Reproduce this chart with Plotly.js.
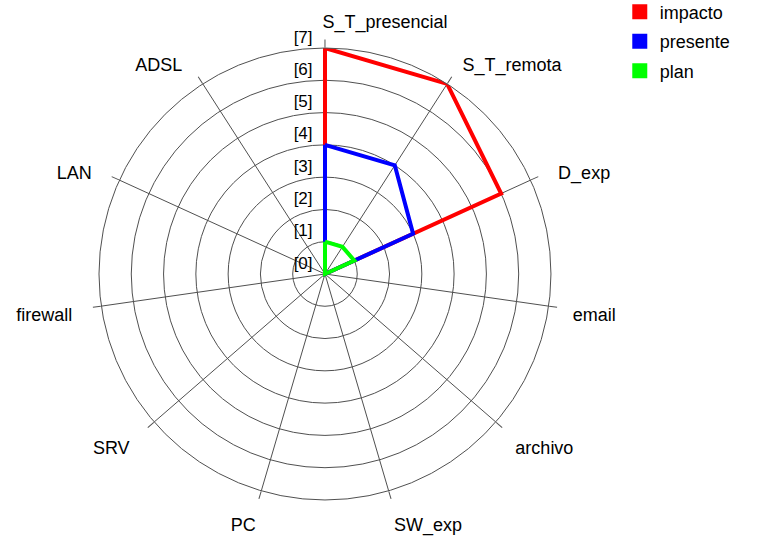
<!DOCTYPE html>
<html>
<head>
<meta charset="utf-8">
<script src="https://cdn.plot.ly/plotly-3.0.1.min.js"></script>
<style>
  html, body { margin: 0; padding: 0; background: #fff; }
  #chart { width: 768px; height: 541px; }
</style>
</head>
<body>
<div id="chart"></div>
<script>
const categorias = ['S_T_presencial', 'S_T_remota', 'D_exp', 'email', 'archivo', 'SW_exp',
                    'PC', 'SRV', 'firewall', 'LAN', 'ADSL'];
const impacto  = [7, 7, 6, 0, 0, 0, 0, 0, 0, 0, 0];
const presente = [4, 4, 3, 0, 0, 0, 0, 0, 0, 0, 0];
const plan     = [1, 1, 1, 0, 0, 0, 0, 0, 0, 0, 0];
const niveles  = [0, 1, 2, 3, 4, 5, 6, 7];
const etiquetasNivel = niveles.map(n => '[' + n + ']');

const series = [
  { name: 'impacto',  r: impacto,  color: '#ff0000' },
  { name: 'presente', r: presente, color: '#0000ff' },
  { name: 'plan',     r: plan,     color: '#00ff00' }
];

// close the polygon by repeating the first point
const cerrar = arr => arr.concat([arr[0]]);

// nbsp padding to push the category labels a little sideways
const nb = n => '\u00a0'.repeat(n);
const relleno = {
  S_T_presencial: [24, 0], S_T_remota: [1, 0], D_exp: [2, 0], email: [1, 0], archivo: [1, 0],
  SW_exp: [0, 0], PC: [0, 0], SRV: [0, 2], firewall: [0, 2], LAN: [0, 2], ADSL: [0, 2]
};
const textoCat = categorias.map(c => nb(relleno[c][0]) + c + nb(relleno[c][1]));

const traces = [];
series.forEach(s => {
  traces.push({
    type: 'scatterpolar',
    r: cerrar(s.r),
    theta: cerrar(categorias),
    mode: 'lines',
    line: { color: s.color, width: 4 },
    showlegend: false,
    hoverinfo: 'skip',
    subplot: 'polar'
  });
});

// legend entries (squares)
series.forEach((s, i) => {
  traces.push({
    type: 'scatterpolar',
    r: [null],
    theta: [categorias[0]],
    mode: 'markers',
    marker: { symbol: 'square', size: 15, color: s.color },
    name: s.name,
    legendgroup: 'g' + i,
    subplot: 'polar'
  });
});

// empty traces so the label subplots get drawn
traces.push({ type: 'scatterpolar', r: [], theta: [], subplot: 'polar2', showlegend: false, hoverinfo: 'skip' });
traces.push({
  type: 'scatterpolar', r: categorias.map(() => null), theta: categorias,
  mode: 'markers', subplot: 'polar3', showlegend: false, hoverinfo: 'skip'
});

const grid = '#505050';
const fam = 'Liberation Sans, Arial, sans-serif';
const font = { family: fam, size: 18, color: '#000' };
const sinEje = { visible: false, showgrid: false, showline: false, showticklabels: false, ticks: '' };

const layout = {
  width: 768,
  height: 541,
  margin: { t: 0, b: 0, l: 0, r: 0, autoexpand: false },
  paper_bgcolor: '#fff',
  font: font,
  showlegend: true,
  legend: {
    x: 0.807, y: 1.0117, xanchor: 'left', yanchor: 'top',
    font: font, tracegroupgap: 3, bgcolor: 'rgba(0,0,0,0)'
  },
  polar: {
    domain: { x: [0.1289, 0.7174], y: [0.0758, 0.9113] },
    bgcolor: '#fff',
    angularaxis: {
      type: 'category',
      categoryarray: categorias,
      direction: 'clockwise',
      rotation: 90,
      showgrid: true,
      gridcolor: grid,
      gridwidth: 1,
      showline: true,
      linecolor: grid,
      linewidth: 1,
      ticks: 'outside',
      ticklen: 8,
      tickcolor: grid,
      showticklabels: false
    },
    radialaxis: {
      range: [0, 7],
      tickvals: [1, 2, 3, 4, 5, 6, 7],
      showticklabels: false,
      ticks: '',
      showline: false,
      gridcolor: grid,
      gridwidth: 1
    }
  },
  // same centre and scale as the main polar: ring labels [0]..[7]
  polar2: {
    domain: { x: [0.1036, 0.7427], y: [0.0399, 0.9471] },
    bgcolor: 'rgba(0,0,0,0)',
    angularaxis: sinEje,
    radialaxis: {
      range: [0, 7.6],
      angle: 90,
      side: 'counterclockwise',
      tickangle: 90,
      tickvals: niveles.map(n => n + 0.34),
      ticktext: etiquetasNivel,
      tickfont: { family: fam, size: 17, color: '#000' },
      showgrid: false,
      showline: false,
      ticks: 'outside',
      ticklen: 6,
      tickcolor: 'rgba(0,0,0,0)'
    }
  },
  // category labels round the circle
  polar3: {
    domain: { x: [0.1195, 0.7268], y: [0.0569, 0.9190] },
    bgcolor: 'rgba(0,0,0,0)',
    angularaxis: {
      type: 'category',
      categoryarray: categorias,
      direction: 'clockwise',
      rotation: 90,
      tickmode: 'array',
      tickvals: categorias,
      ticktext: textoCat,
      showgrid: false,
      showline: false,
      ticks: 'outside',
      ticklen: 8,
      tickcolor: 'rgba(0,0,0,0)',
      tickfont: font
    },
    radialaxis: sinEje
  }
};

Plotly.newPlot('chart', traces, layout, { displayModeBar: false, staticPlot: true });
</script>
</body>
</html>
